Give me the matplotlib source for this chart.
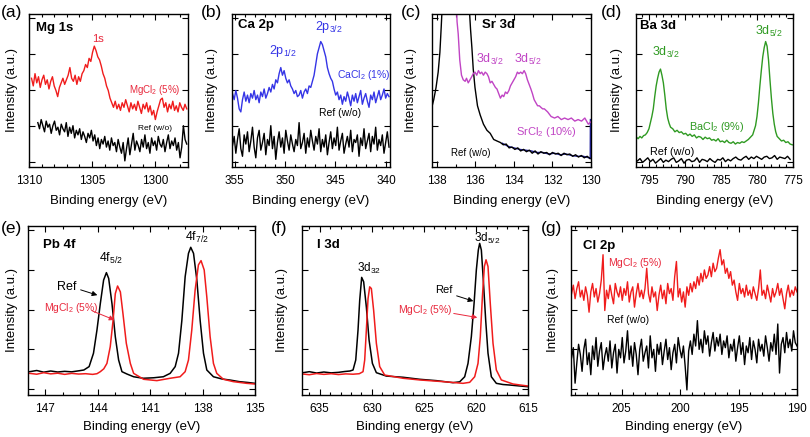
import numpy as np
import matplotlib
matplotlib.use('Agg')
import matplotlib.pyplot as plt
from matplotlib.ticker import MultipleLocator

plt.rcParams['font.family'] = ['Liberation Sans', 'DejaVu Sans']
plt.rcParams['mathtext.fontset'] = 'custom'
plt.rcParams['mathtext.rm'] = 'Liberation Sans'
plt.rcParams['mathtext.it'] = 'Liberation Sans:italic'
plt.rcParams['mathtext.bf'] = 'Liberation Sans:bold'

W, H = 810, 437

RED = '#f01c1c'
RED_T = '#e8283c'
BLUE = '#3535e6'
MAG = '#c044c4'
GREEN = '#2f9a22'
NAVY = '#2020a0'

# ---------------- (a) Mg 1s ----------------
mg_E = np.linspace(1309.8, 1297.5, 90)
mg_I = [58, 53, 61, 55, 59, 52, 57, 60, 54, 57, 51, 56, 59, 53, 50, 46, 52, 55, 58, 54,
        57, 60, 65, 58, 56, 60, 54, 59, 56, 61, 63, 67, 65, 71, 69, 75, 79, 76, 72, 70,
        66, 61, 58, 53, 50, 45, 42, 39, 43, 38, 41, 37, 42, 39, 44, 40, 36, 42, 38, 41,
        37, 43, 39, 35, 41, 38, 42, 36, 40, 34, 37, 31, 36, 40, 44, 45, 39, 42, 36, 41,
        38, 43, 37, 40, 36, 42, 39, 37, 41, 38]
mg_ref_E = np.linspace(1309.3, 1297.5, 90)
mg_ref_I = [29, 25, 31, 27, 23, 30, 26, 28, 22, 27, 30, 24, 26, 21, 28, 25, 23, 29, 20, 26,
            22, 27, 19, 24, 21, 25, 18, 23, 20, 16, 22, 19, 24, 17, 21, 14, 19, 12, 18, 15,
            20, 13, 17, 11, 19, 14, 16, 10, 18, 13, 9, 16, 4, 12, 19, 8, 15, 22, 11, 17,
            14, 10, 18, 13, 21, 12, 16, 9, 19, 14, 17, 11, 20, 15, 13, 18, 10, 16, 21, 12,
            17, 14, 19, 11, 16, 6, 13, 27, 18, 15]

# ---------------- (b) Ca 2p ----------------
ca_E = np.linspace(355.2, 339.7, 95)
ca_I = [48, 44, 50, 45, 38, 36, 44, 49, 43, 47, 42, 48, 45, 50, 44, 47, 42, 49, 46, 51,
        45, 48, 52, 49, 54, 51, 57, 55, 61, 65, 60, 63, 58, 55, 57, 53, 51, 48, 50, 46,
        47, 50, 45, 49, 51, 48, 53, 52, 56, 60, 67, 74, 78, 82, 80, 76, 72, 65, 61, 58,
        56, 51, 47, 49, 44, 47, 41, 46, 43, 49, 45, 40, 47, 43, 48, 42, 46, 50, 41, 45,
        48, 43, 39, 47, 44, 49, 42, 46, 50, 44, 47, 51, 45, 48, 46]
ca_ref_I = [14, 20, 9, 18, 25, 12, 7, 21, 15, 23, 10, 17, 26, 13, 6, 19, 24, 11, 16, 22,
            8, 18, 14, 27, 12, 20, 5, 16, 23, 13, 19, 9, 24, 17, 11, 21, 15, 10, 18, 14,
            29, 12, 16, 22, 9, 19, 13, 24, 17, 11, 20, 15, 25, 10, 18, 13, 21, 8, 16, 23,
            12, 19, 14, 26, 11, 17, 22, 9, 15, 20, 13, 24, 10, 18, 16, 21, 7, 19, 14, 25,
            12, 17, 22, 10, 20, 15, 26, 11, 18, 14, 21, 9, 16, 23, 13]

# ---------------- (c) Sr 3d ----------------
sr_ref_E = [138.26, 138.16, 138.04, 137.93, 137.84, 137.77, 137.72, 137.6, 136.5, 136.32,
            136.25, 136.18, 136.11, 136.02, 135.89, 135.75, 135.58, 135.4, 135.23, 135.05,
            134.88, 134.7, 134.55, 134.4, 134.25, 134.1, 133.95, 133.8, 133.65, 133.5,
            133.35, 133.2, 133.05, 132.9, 132.75, 132.6, 132.45, 132.3, 132.15, 132.0,
            131.85, 131.7, 131.55, 131.4, 131.25, 131.1, 130.95, 130.8, 130.65, 130.5,
            130.35, 130.2, 130.05]
sr_ref_I = [39, 44, 52, 62, 75, 92, 105, 140, 140, 105, 90, 78, 64, 52, 40, 34, 28, 24, 22, 18,
            17, 16, 14.5, 15, 12.5, 13, 11.5, 12.5, 10.5, 11.5, 10, 11, 9, 10.5, 8.5, 10, 9,
            9.5, 8, 9.5, 8.5, 9, 7.5, 9, 8, 8.5, 7, 8, 6.5, 7.5, 6, 7, 5.5]
sr_E = [136.98, 136.95, 136.89, 136.81, 136.72, 136.63, 136.53, 136.46, 136.37, 136.28,
        136.19, 136.11, 136.02, 135.93, 135.84, 135.75, 135.67, 135.58, 135.49, 135.4,
        135.32, 135.23, 135.14, 135.05, 134.96, 134.88, 134.79, 134.7, 134.61, 134.53,
        134.44, 134.35, 134.26, 134.18, 134.09, 134.0, 133.91, 133.82, 133.74, 133.65,
        133.56, 133.47, 133.39, 133.3, 133.21, 133.12, 133.04, 132.95, 132.86, 132.77,
        132.68, 132.6, 132.51, 132.42, 132.25, 132.07, 131.89, 131.72, 131.54, 131.37,
        131.19, 131.02, 130.84, 130.67, 130.49, 130.32, 130.14, 129.96]
sr_I = [105, 95, 87, 70, 60, 57, 56, 58, 55, 57, 59, 61, 62, 60, 63, 61, 62, 60, 62, 61,
        59, 55, 56, 54, 52, 51, 48, 45, 47, 46, 49, 48, 50, 53, 55, 57, 59, 62, 61, 62,
        61, 63, 61, 57, 54, 51, 48, 44, 42, 40, 40, 39, 38, 38, 36, 33, 32, 33, 31, 32,
        31, 32, 30, 31, 30, 32, 28, 30]
sr_blue_E = [134.6, 134.3, 134.0, 133.7, 133.4, 133.1, 132.8, 132.5, 132.2, 131.9, 131.6,
             131.3, 131.0, 130.7, 130.4, 130.1, 130.04, 130.03]
sr_blue_I = [15.5, 13.5, 12.5, 11.5, 11, 10.5, 9.5, 9.5, 8.5, 9, 8, 8.5, 7.5, 7, 7, 6, 5.5, 31]

# ---------------- (d) Ba 3d ----------------
ba_E = [796.75, 796.5, 796.25, 796.0, 795.75, 795.5, 795.25, 795.0, 794.8, 794.6, 794.4,
        794.2, 794.0, 793.8, 793.6, 793.4, 793.2, 793.0, 792.8, 792.6, 792.4, 792.2, 792.0,
        791.7, 791.4, 791.1, 790.8, 790.5, 790.2, 789.9, 789.6, 789.3, 789.0, 788.7, 788.4,
        788.1, 787.8, 787.5, 787.2, 786.9, 786.6, 786.3, 786.0, 785.7, 785.4, 785.1, 784.8,
        784.5, 784.2, 783.9, 783.6, 783.3, 783.0, 782.7, 782.4, 782.1, 781.8, 781.5, 781.2,
        780.9, 780.6, 780.4, 780.2, 780.0, 779.8, 779.6, 779.4, 779.2, 779.0, 778.8, 778.6,
        778.4, 778.2, 778.0, 777.8, 777.6, 777.4, 777.2, 776.9, 776.6, 776.3, 776.0, 775.7,
        775.4, 775.1]
ba_I = [19.5, 18.5, 20, 19, 20.5, 21, 22.5, 25, 29, 33, 38, 46, 53, 58, 62, 64, 60, 55,
        47, 38, 32, 28.5, 26, 25, 23, 24, 22.5, 23, 21.5, 22, 20.5, 21.5, 20, 21, 19, 20,
        19.5, 18, 19.5, 18.5, 19, 17.5, 18, 17, 18.5, 16.5, 17, 16, 17.5, 16, 15.5, 16.5,
        15, 16, 15.5, 16.5, 16, 17, 18, 19.5, 21, 24, 27, 33, 42, 53, 63, 72, 78, 82, 79,
        70, 57, 45, 35, 28, 23, 20, 18.5, 17, 17.5, 16, 16.5, 15, 14.5]
ba_ref_E = np.linspace(796.6, 775.4, 60)
ba_ref_I = [4, 5.5, 3, 4.5, 6, 3.5, 5, 2.5, 4, 5.5, 3, 4.5, 3.5, 5, 6, 3, 4, 5.5, 2.5, 4.5,
            5, 3.5, 4, 6, 3, 5, 4.5, 3.5, 5.5, 4, 3, 5, 4.5, 6, 3.5, 5, 4, 5.5, 6.5, 5,
            4.5, 6, 7, 5, 6.5, 5.5, 7, 6, 5, 6.5, 7, 5.5, 6, 7.5, 5, 6.5, 6, 5.5, 7, 5]

# ---------------- (e) Pb 4f ----------------
pb_ref_E = [147.9, 147.5, 147.1, 146.7, 146.3, 145.9, 145.5, 145.1, 144.8, 144.5, 144.25,
            144.05, 143.86, 143.67, 143.51, 143.38, 143.19, 143.0, 142.81, 142.62, 142.33,
            141.95, 141.4, 140.8, 140.25, 139.86, 139.57, 139.38, 139.19, 139.0, 138.81,
            138.68, 138.52, 138.33, 138.14, 137.95, 137.76, 137.38, 136.9, 136.4, 135.9,
            135.4, 135.0]
pb_ref_I = [13.8, 14.5, 13.5, 14.2, 13.6, 14.0, 13.7, 14.3, 14.8, 16.8, 24.7, 38.5, 54, 68,
            72.4, 69, 54, 34.5, 20.7, 13.8, 12.4, 10.8, 9.9, 10.2, 10.8, 12.8, 16.8, 24.7,
            44, 70, 83.8, 87.4, 83.8, 68, 44, 24.7, 14.8, 10.8, 9.5, 8.8, 7.9, 7.4, 6.9]
pb_mg_E = [147.9, 147.5, 147.1, 146.7, 146.3, 145.9, 145.5, 145.1, 144.7, 144.3, 144.05,
           143.86, 143.66, 143.48, 143.29, 143.13, 143.0, 142.87, 142.71, 142.56, 142.37,
           142.14, 141.95, 141.38, 140.62, 139.86, 139.29, 139.0, 138.81, 138.62, 138.43,
           138.24, 138.09, 137.91, 137.76, 137.57, 137.38, 137.19, 136.81, 136.24, 135.48,
           135.0]
pb_mg_I = [12.8, 12.3, 13.2, 12.5, 12.9, 12.2, 12.8, 12.4, 12.6, 12.2, 12.6, 13.8, 15.5,
           18.7, 28.6, 44, 60, 64.5, 61, 48, 30.6, 18.7, 12.8, 9.3, 8.5, 9.9, 10.8, 13.8,
           20.7, 38.5, 62, 77, 79.5, 74, 58, 34.5, 18.7, 12.8, 9.3, 7.9, 6.9, 6.5]

# ---------------- (f) I 3d ----------------
i_ref_E = [636.6, 636.0, 635.3, 634.6, 633.9, 633.2, 632.6, 632.1, 631.8, 631.54, 631.32,
           631.16, 630.97, 630.78, 630.52, 630.26, 629.94, 629.56, 628.6, 627.0, 625.4,
           623.8, 622.2, 621.56, 621.08, 620.76, 620.44, 620.18, 619.96, 619.77, 619.64,
           619.48, 619.29, 619.06, 618.84, 618.52, 618.04, 617.4, 616.76, 615.9, 615.0]
i_ref_I = [13.2, 13.8, 13.0, 13.6, 13.1, 13.4, 13.9, 14.2, 14.8, 20.7, 38.5, 56, 69.6, 67,
           52, 32.5, 18.7, 13.2, 11.2, 10.5, 9.3, 8.5, 7.3, 7.8, 10.8, 18.7, 34.5, 54, 74,
           85.8, 89.7, 85.8, 68, 44, 24.7, 10.8, 6.9, 6.2, 5.9, 5.4, 4.9]
i_mg_E = [636.6, 636.0, 635.3, 634.6, 633.9, 633.2, 632.5, 631.8, 631.2, 630.84, 630.68,
          630.52, 630.36, 630.2, 630.04, 629.82, 629.56, 629.24, 628.76, 627.0, 625.4,
          623.16, 621.24, 620.6, 620.12, 619.8, 619.58, 619.38, 619.19, 619.03, 618.84,
          618.62, 618.36, 618.04, 617.56, 616.44, 615.0]
i_mg_I = [12.4, 12.0, 12.7, 12.2, 12.6, 12.1, 12.5, 12.3, 12.6, 13.8, 20.7, 38.5, 57, 64,
          63, 50, 30.6, 16.8, 11.8, 9.9, 8.9, 7.9, 6.9, 7.5, 10.8, 18.7, 34.5, 58, 76, 80,
          76, 54, 30.6, 14.8, 8.9, 6.5, 5.3]

# ---------------- (g) Cl 2p ----------------
cl_E = np.linspace(209.3, 190.0, 130)
cl_I = [60, 65, 57, 63, 67, 58, 62, 56, 64, 59, 49, 61, 66, 58, 63, 55, 60, 68, 83, 50,
        62, 57, 65, 59, 54, 66, 61, 58, 64, 56, 63, 59, 67, 55, 61, 64, 52, 60, 66, 58,
        62, 57, 63, 75, 60, 55, 64, 58, 61, 50, 59, 65, 57, 62, 54, 66, 60, 63, 56, 70,
        79, 58, 63, 55, 61, 52, 64, 59, 66, 61, 67, 63, 70, 65, 72, 67, 74, 69, 71, 76,
        70, 78, 73, 75, 81, 86, 77, 80, 72, 75, 69, 73, 65, 68, 61, 56, 66, 60, 63, 58,
        65, 59, 62, 57, 64, 60, 56, 63, 74, 59, 62, 57, 65, 60, 55, 63, 58, 61, 66, 59,
        63, 57, 51, 60, 65, 58, 62, 59, 64, 61]
cl_ref_I = [22, 28, 7, 19, 30, 24, 14, 27, 33, 18, 25, 12, 29, 21, 34, 17, 26, 31, 15, 23,
            28, 20, 32, 16, 25, 30, 13, 27, 22, 34, 19, 26, 38, 21, 29, 17, 31, 24, 12, 27,
            33, 20, 25, 29, 16, 35, 22, 27, 14, 30, 24, 31, 18, 26, 33, 21, 28, 15, 25, 30,
            19, 34, 27, 22, 29, 17, 3, 26, 32, 24, 36, 29, 44, 27, 33, 25, 38, 30, 35, 23,
            31, 37, 26, 34, 29, 36, 24, 32, 28, 35, 22, 30, 26, 33, 20, 28, 35, 24, 31, 18,
            29, 25, 34, 21, 32, 27, 19, 33, 26, 30, 23, 35, 28, 20, 31, 26, 36, 24, 42, 13,
            30, 34, 25, 37, 28, 33, 26, 38, 31, 29]

fig = plt.figure(figsize=(W / 100, H / 100), dpi=100)


def panel(l, r, t, b, xlim, major, minor, ylab_off, xlab_y):
    ax = fig.add_axes([l / W, 1 - b / H, (r - l) / W, (b - t) / H])
    ax.set_xlim(*xlim)
    ax.set_ylim(0, 100)
    ax.xaxis.set_major_locator(MultipleLocator(major))
    ax.xaxis.set_minor_locator(MultipleLocator(minor))
    ax.set_yticks([3.5, 27, 50.5, 74, 97.5])
    ax.tick_params(which='both', direction='in', top=True, right=True,
                   labelleft=False, labelsize=8.5, pad=5.5, width=0.8)
    ax.tick_params(which='major', length=4)
    ax.tick_params(which='minor', length=2.2)
    for s in ax.spines.values():
        s.set_linewidth(1.0)
    ax.set_xlabel('Binding energy (eV)', fontsize=9.5, va='center')
    ax.xaxis.set_label_coords(0.5, -(xlab_y - b) / (b - t))
    ax.set_ylabel('Intensity (a.u.)', fontsize=9.5, va='center')
    ax.yaxis.set_label_coords(-ylab_off / (r - l), 0.5)
    return ax


def txt(x, y, s, **kw):
    kw.setdefault('ha', 'center')
    kw.setdefault('va', 'center')
    fig.text(x / W, 1 - y / H, s, **kw)


def arrow(x0, y0, x1, y1, color):
    fig.add_artist(matplotlib.patches.FancyArrowPatch(
        (x0 / W, 1 - y0 / H), (x1 / W, 1 - y1 / H), transform=fig.transFigure,
        arrowstyle='-|>,head_length=3,head_width=1.5', color=color, lw=0.7))


# (a)
ax = panel(29, 188, 14, 167, (1310, 1297.4), 5, 1, 17, 201)
ax.plot(mg_ref_E, mg_ref_I, color='k', lw=1.0)
ax.plot(mg_E, mg_I, color=RED, lw=1.0)
txt(1, 12, '(a)', fontsize=12.5, ha='left')
txt(36, 28, 'Mg 1s', fontsize=9.5, fontweight='bold', ha='left')
txt(98, 39, '1s', fontsize=8, color=RED_T)
txt(155, 90, 'MgCl$_2$ (5%)', fontsize=7, color=RED_T)
txt(155, 129, 'Ref (w/o)', fontsize=6)

# (b)
ax = panel(232, 390, 14, 167, (355.25, 339.6), 5, 1, 20, 201)
ax.plot(ca_E, ca_ref_I, color='k', lw=1.0)
ax.plot(ca_E, ca_I, color=BLUE, lw=1.0)
txt(201, 12, '(b)', fontsize=12.5, ha='left')
txt(238, 25, 'Ca 2p', fontsize=9.5, fontweight='bold', ha='left')
txt(283, 51, '2p$_{1/2}$', fontsize=9, color=BLUE)
txt(329, 27, '2p$_{3/2}$', fontsize=9, color=BLUE)
txt(337, 75, 'CaCl$_2$ (1%)', fontsize=7.5, color=BLUE, ha='left')
txt(340, 113, 'Ref (w/o)', fontsize=7.5)

# (c)
ax = panel(432, 591, 14, 167, (138.25, 130), 2, 1, 21, 201)
ax.plot(sr_blue_E, sr_blue_I, color=NAVY, lw=1.0)
ax.plot(sr_ref_E, sr_ref_I, color='k', lw=1.0)
ax.plot(sr_E, sr_I, color=MAG, lw=1.0)
txt(401, 12, '(c)', fontsize=12.5, ha='left')
txt(482, 25, 'Sr 3d', fontsize=9.5, fontweight='bold', ha='left')
txt(490, 59, '3d$_{3/2}$', fontsize=9, color=MAG)
txt(528, 59, '3d$_{5/2}$', fontsize=9, color=MAG)
txt(546, 132, 'SrCl$_2$ (10%)', fontsize=8, color=MAG)
txt(471, 153, 'Ref (w/o)', fontsize=7)

# (d)
ax = panel(636, 793, 14, 167, (796.8, 775), 5, 1, 19, 201)
ax.plot(ba_ref_E, ba_ref_I, color='k', lw=1.0)
ax.plot(ba_E, ba_I, color=GREEN, lw=1.0)
txt(601, 12, '(d)', fontsize=12.5, ha='left')
txt(640, 26, 'Ba 3d', fontsize=9.5, fontweight='bold', ha='left')
txt(666, 52, '3d$_{3/2}$', fontsize=9, color=GREEN)
txt(769, 31, '3d$_{5/2}$', fontsize=9, color=GREEN)
txt(717, 127, 'BaCl$_2$ (9%)', fontsize=7.8, color=GREEN)
txt(672, 152, 'Ref (w/o)', fontsize=7.8)

# (e)
ax = panel(28, 255, 226, 395, (148, 135), 3, 1, 16, 427)
ax.plot(pb_ref_E, pb_ref_I, color='k', lw=1.1)
ax.plot(pb_mg_E, pb_mg_I, color=RED, lw=1.1)
txt(1, 229, '(e)', fontsize=12.5, ha='left')
txt(43, 245, 'Pb 4f', fontsize=9.5, fontweight='bold', ha='left')
txt(111, 258, '4f$_{5/2}$', fontsize=8.8)
txt(197, 237, '4f$_{7/2}$', fontsize=8.8)
txt(67, 287, 'Ref', fontsize=9)
txt(71, 308, 'MgCl$_2$ (5%)', fontsize=7.5, color=RED_T)
arrow(78, 289, 100, 296, 'k')
arrow(90, 310, 117, 321, RED_T)

# (f)
ax = panel(302, 528, 226, 395, (636.7, 615), 5, 1, 20, 427)
ax.plot(i_ref_E, i_ref_I, color='k', lw=1.1)
ax.plot(i_mg_E, i_mg_I, color=RED, lw=1.1)
txt(271, 229, '(f)', fontsize=12.5, ha='left')
txt(317, 245, 'I 3d', fontsize=9.5, fontweight='bold', ha='left')
txt(369, 268, '3d$_{32}$', fontsize=8.5)
txt(487, 238, '3d$_{5/2}$', fontsize=8.5)
txt(444, 290, 'Ref', fontsize=8)
txt(425, 310, 'MgCl$_2$ (5%)', fontsize=7.5, color=RED_T)
arrow(454, 295, 476, 302, 'k')
arrow(451, 313, 480, 318, RED_T)

# (g)
ax = panel(571, 797, 226, 395, (209.35, 190), 5, 1, 18, 427)
ax.plot(cl_E, cl_ref_I, color='k', lw=1.0)
ax.plot(cl_E, cl_I, color=RED, lw=1.0)
txt(541, 229, '(g)', fontsize=12.5, ha='left')
txt(583, 246, 'Cl 2p', fontsize=9.5, fontweight='bold', ha='left')
txt(635, 263, 'MgCl$_2$ (5%)', fontsize=7.5, color=RED_T)
txt(628, 320, 'Ref (w/o)', fontsize=7.5)

fig.savefig('out.png', dpi=100)
